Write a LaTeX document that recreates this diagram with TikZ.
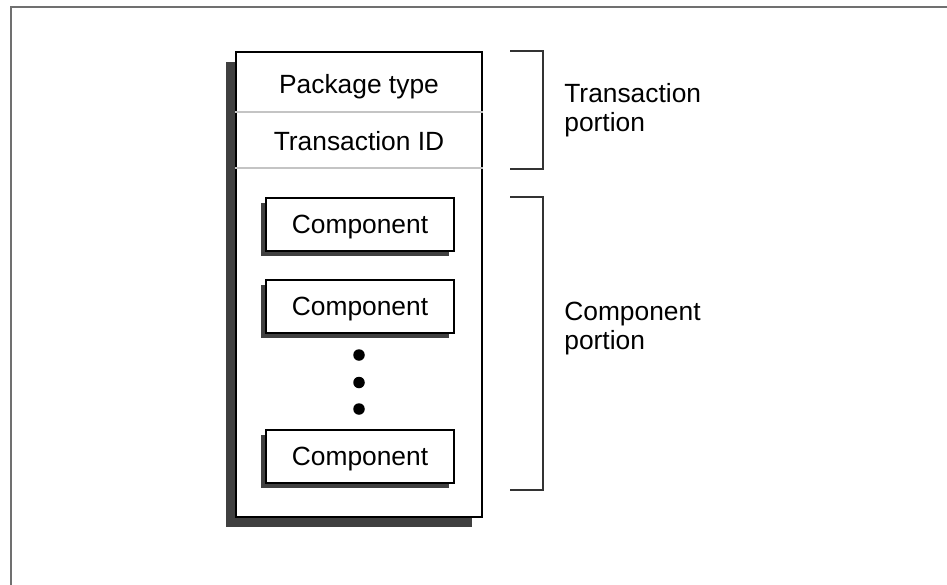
\documentclass[tikz,border=0pt]{standalone}
\usepackage{fontspec}
\setmainfont{Liberation Sans}
\usepackage{tikz}
\usetikzlibrary{positioning, calc, shadows}
\definecolor{sgray}{HTML}{404040}
\definecolor{rulegray}{HTML}{C4C4C4}
\definecolor{framegray}{HTML}{707070}
\tikzset{
  font=\fontsize{15}{16.5}\selectfont,
  packet/.style={
    draw=black, fill=white, line width=1.1pt,
    minimum width=4.92cm, minimum height=9.3cm, inner sep=0pt,
    drop shadow={shadow xshift=-0.2cm, shadow yshift=-0.2cm, fill=sgray, opacity=1}
  },
  comp/.style={
    draw=black, fill=white, line width=1.1pt,
    minimum width=3.76cm, minimum height=1.06cm, inner sep=0pt, text depth=0pt,
    drop shadow={shadow xshift=-0.1cm, shadow yshift=-0.1cm, fill=sgray, opacity=1}
  },
  sep/.style={draw=rulegray, line width=0.8pt},
  brace/.style={draw=black!80, line width=0.6pt},
  dot/.style={circle, fill=black, inner sep=0pt, minimum size=0.23cm},
  lab/.style={align=left, anchor=base west, inner sep=0pt}
}

\begin{document}
\begin{tikzpicture}[x=0.02cm, y=-0.02cm]
  \useasboundingbox (0,0) rectangle (947,585);
  \draw[framegray, line width=0.6pt] (11,585) -- (11,7) -- (947,7);
  % packet and its header fields
  \node[packet] (pkt) at (359,284.5) {};
  \node[anchor=base, inner sep=0pt] (ptype) at (359,93) {Package type};
  \node[anchor=base, inner sep=0pt] (tid) at (359,150) {Transaction ID};
  \draw[sep] (pkt.west |- 0,112) -- (pkt.east |- 0,112);
  \draw[sep] (pkt.west |- 0,168) -- (pkt.east |- 0,168);
  % components
  \node[comp] (c1) at (360,224.5) {Component};
  \node[comp] (c2) at (360,306.5) {Component};
  \node[comp] (c3) at (360,456.5) {Component};
  \foreach \y/\n in {355/d1, 382.5/d2, 409/d3}
    \node[dot] (\n) at (359,\y) {};
  % portions
  \draw[brace] (510,51) -- (543,51) -- (543,169) -- (510,169);
  \draw[brace] (510,197) -- (543,197) -- (543,490) -- (510,490);
  \node[lab] (tport) at (564,131) {Transaction\\portion};
  \node[lab] (cport) at (564,349) {Component\\portion};
\end{tikzpicture}
\end{document}
